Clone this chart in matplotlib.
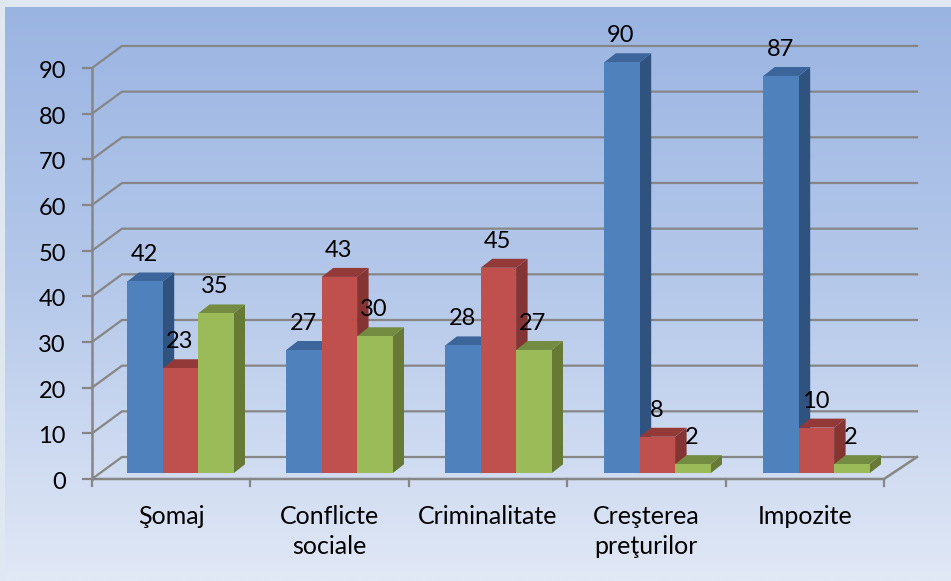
import numpy as np
import matplotlib
matplotlib.use("Agg")
import matplotlib.pyplot as plt
from matplotlib.colors import LinearSegmentedColormap
from matplotlib.patches import Polygon

categories = ["Şomaj", "Conflicte\nsociale", "Criminalitate", "Creşterea\npreţurilor", "Impozite"]
series_blue = [42, 27, 28, 90, 87]
series_red = [23, 43, 45, 8, 10]
series_green = [35, 30, 27, 2, 2]
y_ticks = list(range(0, 100, 10))

W, H = 951, 581
PX_X = 158.4      # pixels per category on the axis
PX_Y = 4.567      # pixels per value unit
X0, Y0 = 92, 479  # pixel position of the front origin

plt.rcParams["font.family"] = ["Lato", "DejaVu Sans"]
fig = plt.figure(figsize=(W / 100, H / 100), dpi=100)
fig.patch.set_facecolor("#dfe7f1")

bg = fig.add_axes([5 / W, 0, 1 - 5 / W, 1 - 7 / H], zorder=0)
cmap = LinearSegmentedColormap.from_list("bg", ["#9ab4e2", "#b6c9ea", "#e1e8f6"])
bg.imshow(np.linspace(0, 1, 256).reshape(-1, 1), aspect="auto", cmap=cmap)
bg.axis("off")

ax = fig.add_axes([0, 0, 1, 1], zorder=1)
ax.patch.set_alpha(0)
ax.set_xlim(-X0 / PX_X, (W - X0) / PX_X)
ax.set_ylim((Y0 - H) / PX_Y, Y0 / PX_Y)
ax.axis("off")

wall_dx, wall_dy = 33 / PX_X, 22 / PX_Y
left_dx = 30 / PX_X
bar_dx, bar_dy = 11.5 / PX_X, 9 / PX_Y
floor_y = 5.7 / PX_Y
bar_w = 35.4 / PX_X
first_left = 35.3 / PX_X
group_step = 159 / PX_X
grid = "#868686"
lw = 1.6

n = len(categories)
for v in y_ticks:
    ax.plot([0, left_dx, n + wall_dx], [v, v + wall_dy, v + wall_dy],
            color=grid, lw=lw, zorder=1, solid_joinstyle="miter")
    ax.plot([-9 / PX_X, 0], [v, v], color=grid, lw=lw, zorder=1)
    ax.text(-26 / PX_X, v - 3.5 / PX_Y, str(v), ha="right", va="center", fontsize=17, color="black", zorder=5)
ax.plot([0, 0], [0, 90], color=grid, lw=lw + 0.2, zorder=1)
ax.plot([0, n, n + wall_dx], [0, 0, wall_dy], color=grid, lw=lw + 0.2, zorder=1)
for i in range(n + 1):
    ax.plot([i, i], [0, -7 / PX_Y], color=grid, lw=lw, zorder=1)

series = [
    (series_blue, "#4f81bd", "#30527f", "#3b659b"),
    (series_red, "#c0504d", "#843432", "#933a38"),
    (series_green, "#9bbb59", "#667a36", "#748c42"),
]
label_x = [i + 0.5 for i in range(n)]
for i, cat in enumerate(categories):
    two = "\n" in cat
    ax.text(label_x[i] + 0 / PX_X, -(531.5 - Y0) / PX_Y if two else -(516 - Y0) / PX_Y, cat,
            ha="center", va="center", fontsize=18, color="black", linespacing=1.42, zorder=5)

for s, (vals, front, side, top) in enumerate(series):
    for i, v in enumerate(vals):
        left = first_left + i * group_step + s * bar_w
        z = 2 + s * 0.1
        ax.bar(left, v, width=bar_w, bottom=floor_y, align="edge", color=front, zorder=z + 0.02,
               edgecolor="none")
        right = left + bar_w
        h = v + floor_y
        ax.add_patch(Polygon([(right, floor_y), (right + bar_dx, floor_y + bar_dy),
                              (right + bar_dx, h + bar_dy), (right, h)],
                             closed=True, fc=side, ec="none", zorder=z))
        ax.add_patch(Polygon([(left, h), (left + bar_dx, h + bar_dy),
                              (right + bar_dx, h + bar_dy), (right, h)],
                             closed=True, fc=top, ec="none", zorder=z))
        ax.text(left + bar_w / 2 - 1 / PX_X, h + 26.5 / PX_Y, str(v), ha="center", va="center",
                fontsize=17, color="black", zorder=6)

fig.savefig("out.png", dpi=100)
